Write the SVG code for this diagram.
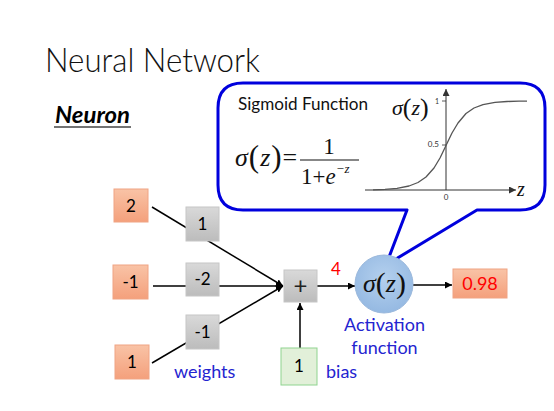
<svg xmlns="http://www.w3.org/2000/svg" width="554" height="411" viewBox="0 0 554 411">
<defs>
<linearGradient id="gOr" x1="0" y1="0" x2="0" y2="1"><stop offset="0" stop-color="#f9c3a6"/><stop offset="1" stop-color="#f4a07c"/></linearGradient>
<linearGradient id="gGr" x1="0" y1="0" x2="0" y2="1"><stop offset="0" stop-color="#d9d9d9"/><stop offset="1" stop-color="#bcbcbc"/></linearGradient>
<radialGradient id="gBl" cx="0.5" cy="0.4" r="0.6"><stop offset="0" stop-color="#b4d0ee"/><stop offset="1" stop-color="#95b9e2"/></radialGradient>
<marker id="ah" viewBox="0 0 10 10" refX="10" refY="5" markerWidth="7" markerHeight="7" markerUnits="userSpaceOnUse" orient="auto"><path d="M0,0 L10,5 L0,10 Z" fill="#000"/></marker>
<marker id="ax" viewBox="0 0 10 10" refX="10" refY="5" markerWidth="9" markerHeight="7" markerUnits="userSpaceOnUse" orient="auto"><path d="M0,0 L10,5 L0,10 Z" fill="#333"/></marker>
<style>
.t{font-family:Lato,"Open Sans","Liberation Sans",sans-serif;}
.num{font-family:Lato,"Open Sans","Liberation Sans",sans-serif;font-size:17px;text-anchor:middle;fill:#000;}
.blue{font-family:Lato,"Open Sans","Liberation Sans",sans-serif;font-size:18px;fill:#2424d0;}
.m{font-family:"Liberation Serif","Times New Roman",serif;fill:#111;}
.in{fill:url(#gOr);stroke:#f0a484;stroke-width:1;}
.w{fill:url(#gGr);stroke:#c6c6c6;stroke-width:1;}
.ln{stroke:#000;stroke-width:1.5;fill:none;}
</style>
</defs>
<rect width="554" height="411" fill="#fff"/>
<text class="t" x="45" y="72" font-size="33" font-weight="300" fill="#111" textLength="215" lengthAdjust="spacingAndGlyphs">Neural Network</text>
<text class="t" x="55" y="123" font-size="22" font-weight="bold" font-style="italic" fill="#000" textLength="75" lengthAdjust="spacingAndGlyphs">Neuron</text>
<line x1="54" y1="127" x2="131" y2="127" stroke="#444" stroke-width="1.5"/>

<g id="callout">
<path d="M243 83 H520 Q545 83 545 108 V185 Q545 210 520 210 H477 L386 265 L407 210 H243 Q218 210 218 185 V108 Q218 83 243 83 Z" fill="#fff" stroke="#0000dd" stroke-width="3" stroke-linejoin="round"/>
<text class="t" x="238" y="110" font-size="17" fill="#111" textLength="130" lengthAdjust="spacingAndGlyphs">Sigmoid Function</text>
<text class="m" x="235" y="166" font-size="26"><tspan font-style="italic">σ</tspan><tspan font-size="31" dy="1" dx="1">(</tspan><tspan font-style="italic" dy="-1" dx="1">z</tspan><tspan font-size="31" dy="1" dx="1">)</tspan><tspan dy="-1" dx="1">=</tspan></text>
<line x1="300" y1="160" x2="359" y2="160" stroke="#111" stroke-width="1.2"/>
<text class="m" x="329" y="154" font-size="23" text-anchor="middle">1</text>
<text class="m" x="301" y="184" font-size="23">1+<tspan font-style="italic">e</tspan><tspan font-size="13" dy="-11" font-style="italic">−z</tspan></text>
<g id="graph">
<line x1="365" y1="190" x2="516" y2="190" stroke="#333" stroke-width="1" marker-end="url(#ax)"/>
<line x1="446" y1="190" x2="446" y2="89" stroke="#333" stroke-width="1" marker-end="url(#ax)"/>
<line x1="442" y1="101" x2="446" y2="101" stroke="#333" stroke-width="0.8"/>
<line x1="442" y1="145" x2="446" y2="145" stroke="#333" stroke-width="0.8"/>
<path d="M373 189.8 L385 189.3 L397 188.3 L409 186 L418 182.5 L426 177 L434 168 L440 158 L446 145.5 L452 133 L458 123 L466 113.5 L474 108 L483 104.6 L495 102.4 L507 101.5 L519 101.2 L527 101.1" fill="none" stroke="#555" stroke-width="1.3" stroke-linejoin="round"/>
<text class="t" x="439" y="104" font-size="7" text-anchor="end" fill="#333">1</text>
<text class="t" x="439" y="147" font-size="8" text-anchor="end" fill="#333">0.5</text>
<text class="t" x="446" y="200" font-size="8" text-anchor="middle" fill="#333">0</text>
<text class="m" x="517" y="196" font-size="20" font-style="italic">z</text>
<text class="m" x="392" y="115" font-size="22"><tspan font-style="italic">σ</tspan><tspan font-size="26" dy="1">(</tspan><tspan font-style="italic" dy="-1">z</tspan><tspan font-size="26" dy="1">)</tspan></text>
</g>
</g>

<g id="connectors">
<line class="ln" x1="152" y1="207" x2="283" y2="286" marker-end="url(#ah)"/>
<line class="ln" x1="153" y1="286" x2="283" y2="286" marker-end="url(#ah)"/>
<line class="ln" x1="152" y1="363" x2="283" y2="286" marker-end="url(#ah)"/>
<line class="ln" x1="300" y1="348" x2="300" y2="303" marker-end="url(#ah)"/>
<line class="ln" x1="317" y1="286" x2="355" y2="286" marker-end="url(#ah)"/>
<line class="ln" x1="413" y1="285" x2="452" y2="285" marker-end="url(#ah)"/>
</g>

<g id="in1"><rect class="in" x="114" y="189" width="34" height="33"/><text class="num" x="131" y="212">2</text></g>
<g id="in2"><rect class="in" x="113" y="265" width="35" height="34"/><text class="num" x="130.5" y="288">-1</text></g>
<g id="in3"><rect class="in" x="115" y="345" width="34" height="34"/><text class="num" x="132" y="368">1</text></g>
<g id="w1"><rect class="w" x="186" y="207" width="33" height="34"/><text class="num" x="202.5" y="230">1</text></g>
<g id="w2"><rect class="w" x="186" y="263" width="33" height="33"/><text class="num" x="202.5" y="285">-2</text></g>
<g id="w3"><rect class="w" x="186" y="315" width="33" height="34"/><text class="num" x="202.5" y="338">-1</text></g>
<g id="sum"><rect class="w" x="284" y="270" width="33" height="32"/><text class="t" x="300.5" y="294" font-size="24" text-anchor="middle" fill="#222">+</text></g>
<g id="bias"><rect x="281" y="348" width="36" height="37" fill="#e2f0d9" stroke="#8fd48f" stroke-width="1"/><text class="num" x="299" y="372">1</text></g>
<g id="act"><circle cx="384" cy="284" r="29" fill="url(#gBl)" stroke="#9ab8dc" stroke-width="1"/>
<text class="m" x="363" y="292" font-size="26"><tspan font-style="italic">σ</tspan><tspan font-size="30" dy="1">(</tspan><tspan font-style="italic" dy="-1">z</tspan><tspan font-size="30" dy="1">)</tspan></text></g>
<g id="out"><rect class="in" x="453" y="269" width="54" height="29"/><text class="t" x="480" y="290" font-size="18" text-anchor="middle" fill="#ff0000">0.98</text></g>

<text class="t" x="336" y="275" font-size="17" text-anchor="middle" fill="#ff0000">4</text>
<text class="blue" x="174" y="378">weights</text>
<text class="blue" x="326" y="378">bias</text>
<text class="blue" x="384.5" y="331" text-anchor="middle">Activation</text>
<text class="blue" x="384.5" y="354" text-anchor="middle">function</text>
</svg>
